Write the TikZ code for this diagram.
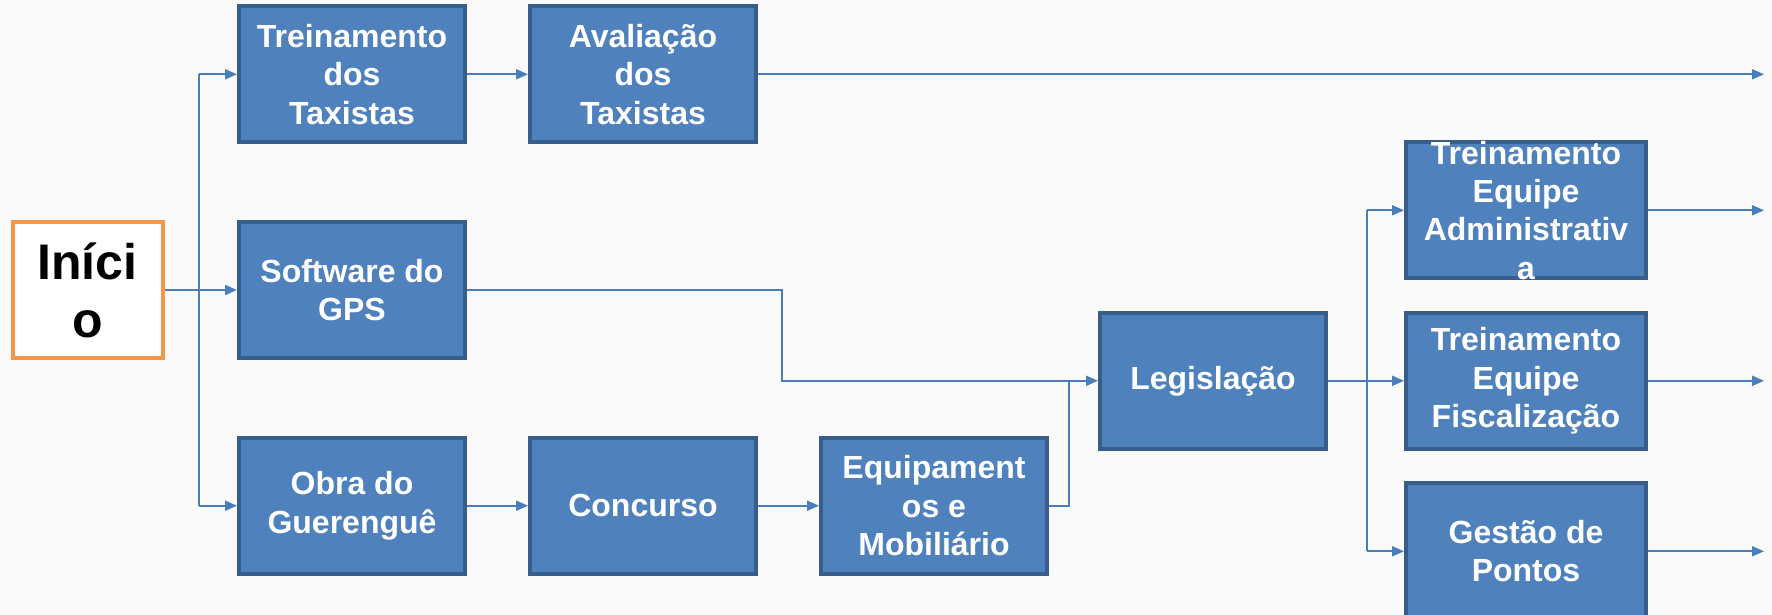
\documentclass[tikz,border=0pt]{standalone}
\usepackage{fontspec}
\setmainfont{Liberation Sans}
\usepackage{xcolor}
\usetikzlibrary{positioning}
\usetikzlibrary{arrows.meta}
\definecolor{boxfill}{HTML}{4F81BD}
\definecolor{boxline}{HTML}{385D8A}
\definecolor{linkcol}{HTML}{4A7EBB}
\definecolor{startline}{HTML}{F79646}
\definecolor{slidebg}{HTML}{FAFAFA}
\tikzset{boxtext/.style={text=white, align=center, font=\bfseries\fontsize{16}{19.2}\selectfont},
stepbox/.style={boxtext, draw=boxline, fill=boxfill, line width=2pt,
minimum width=113pt, minimum height=68pt, inner sep=1pt},
widebox/.style={stepbox, minimum width=120pt},
startbox/.style={draw=startline, fill=white, line width=2pt, align=center,
font=\bfseries\fontsize{25}{29}\selectfont, minimum width=75pt, minimum height=68pt, inner sep=1pt},
link/.style={draw=linkcol, line width=1pt, -{Triangle[length=6pt, width=5pt]}},
plainlink/.style={draw=linkcol, line width=1pt}}

\begin{document}
\begin{tikzpicture}[x=0.5pt, y=-0.5pt]
	\fill[slidebg] (0,0) rectangle (1772,615);
	\useasboundingbox (0,0) rectangle (1772,615);
	\node[startbox] (inicio) at (87.5,290) {Iníci\\o};
	\node[stepbox] (gps) at (352,290) {Software do\\GPS};
	\node[stepbox, above=37.85pt of gps] (treintax) {Treinamento\\dos\\Taxistas};
	\node[stepbox, right=30.5pt of treintax] (avaltax) {Avaliação\\dos\\Taxistas};
	\node[stepbox, below=37.85pt of gps] (obra) {Obra do\\Guerenguê};
	\node[stepbox, right=30.5pt of obra] (concurso) {Concurso};
	\node[stepbox, right=30.5pt of concurso] (equip) {Equipament\\os e\\Mobiliário};
	\node[stepbox] (legis) at (1213,380.8) {Legislação};
	\node[widebox, right=38pt of legis] (treinfisc) {Treinamento\\Equipe\\Fiscalização};
	\node[widebox, above=15.25pt of treinfisc,
		label={[boxtext]center:Treinamento\\Equipe\\Administrativ\\a}] (treinadm) {};
	\node[widebox, below=15.25pt of treinfisc] (gestao) {Gestão de\\Pontos};
	\coordinate (split) at (199,290);
	\coordinate (jogA) at (782,0);
	\coordinate (jogB) at (1069,0);
	\coordinate (jogC) at (1367,0);
	\coordinate (rim) at (1764,0);
	\draw[link] (inicio.east) -- (gps.west);
	\draw[plainlink] (treintax.west -| split) -- (obra.west -| split);
	\draw[link] (split |- treintax.west) -- (treintax.west);
	\draw[link] (split |- obra.west) -- (obra.west);
	\draw[link] (treintax) -- (avaltax);
	\draw[link] (avaltax.east) -- (avaltax.east -| rim);
	\draw[link] (gps.east) -- (gps.east -| jogA) -- (jogA |- legis.west) -- (legis.west);
	\draw[link] (obra) -- (concurso);
	\draw[link] (concurso) -- (equip);
	\draw[plainlink] (equip.east) -- (equip.east -| jogB) -- (jogB |- legis.west);
	\draw[link] (legis) -- (treinfisc);
	\draw[plainlink] (jogC |- treinadm.west) -- (jogC |- gestao.west);
	\draw[link] (jogC |- treinadm.west) -- (treinadm.west);
	\draw[link] (jogC |- gestao.west) -- (gestao.west);
	\foreach \n in {treinadm,treinfisc,gestao}
		\draw[link] (\n.east) -- (\n.east -| rim);
\end{tikzpicture}
\end{document}
